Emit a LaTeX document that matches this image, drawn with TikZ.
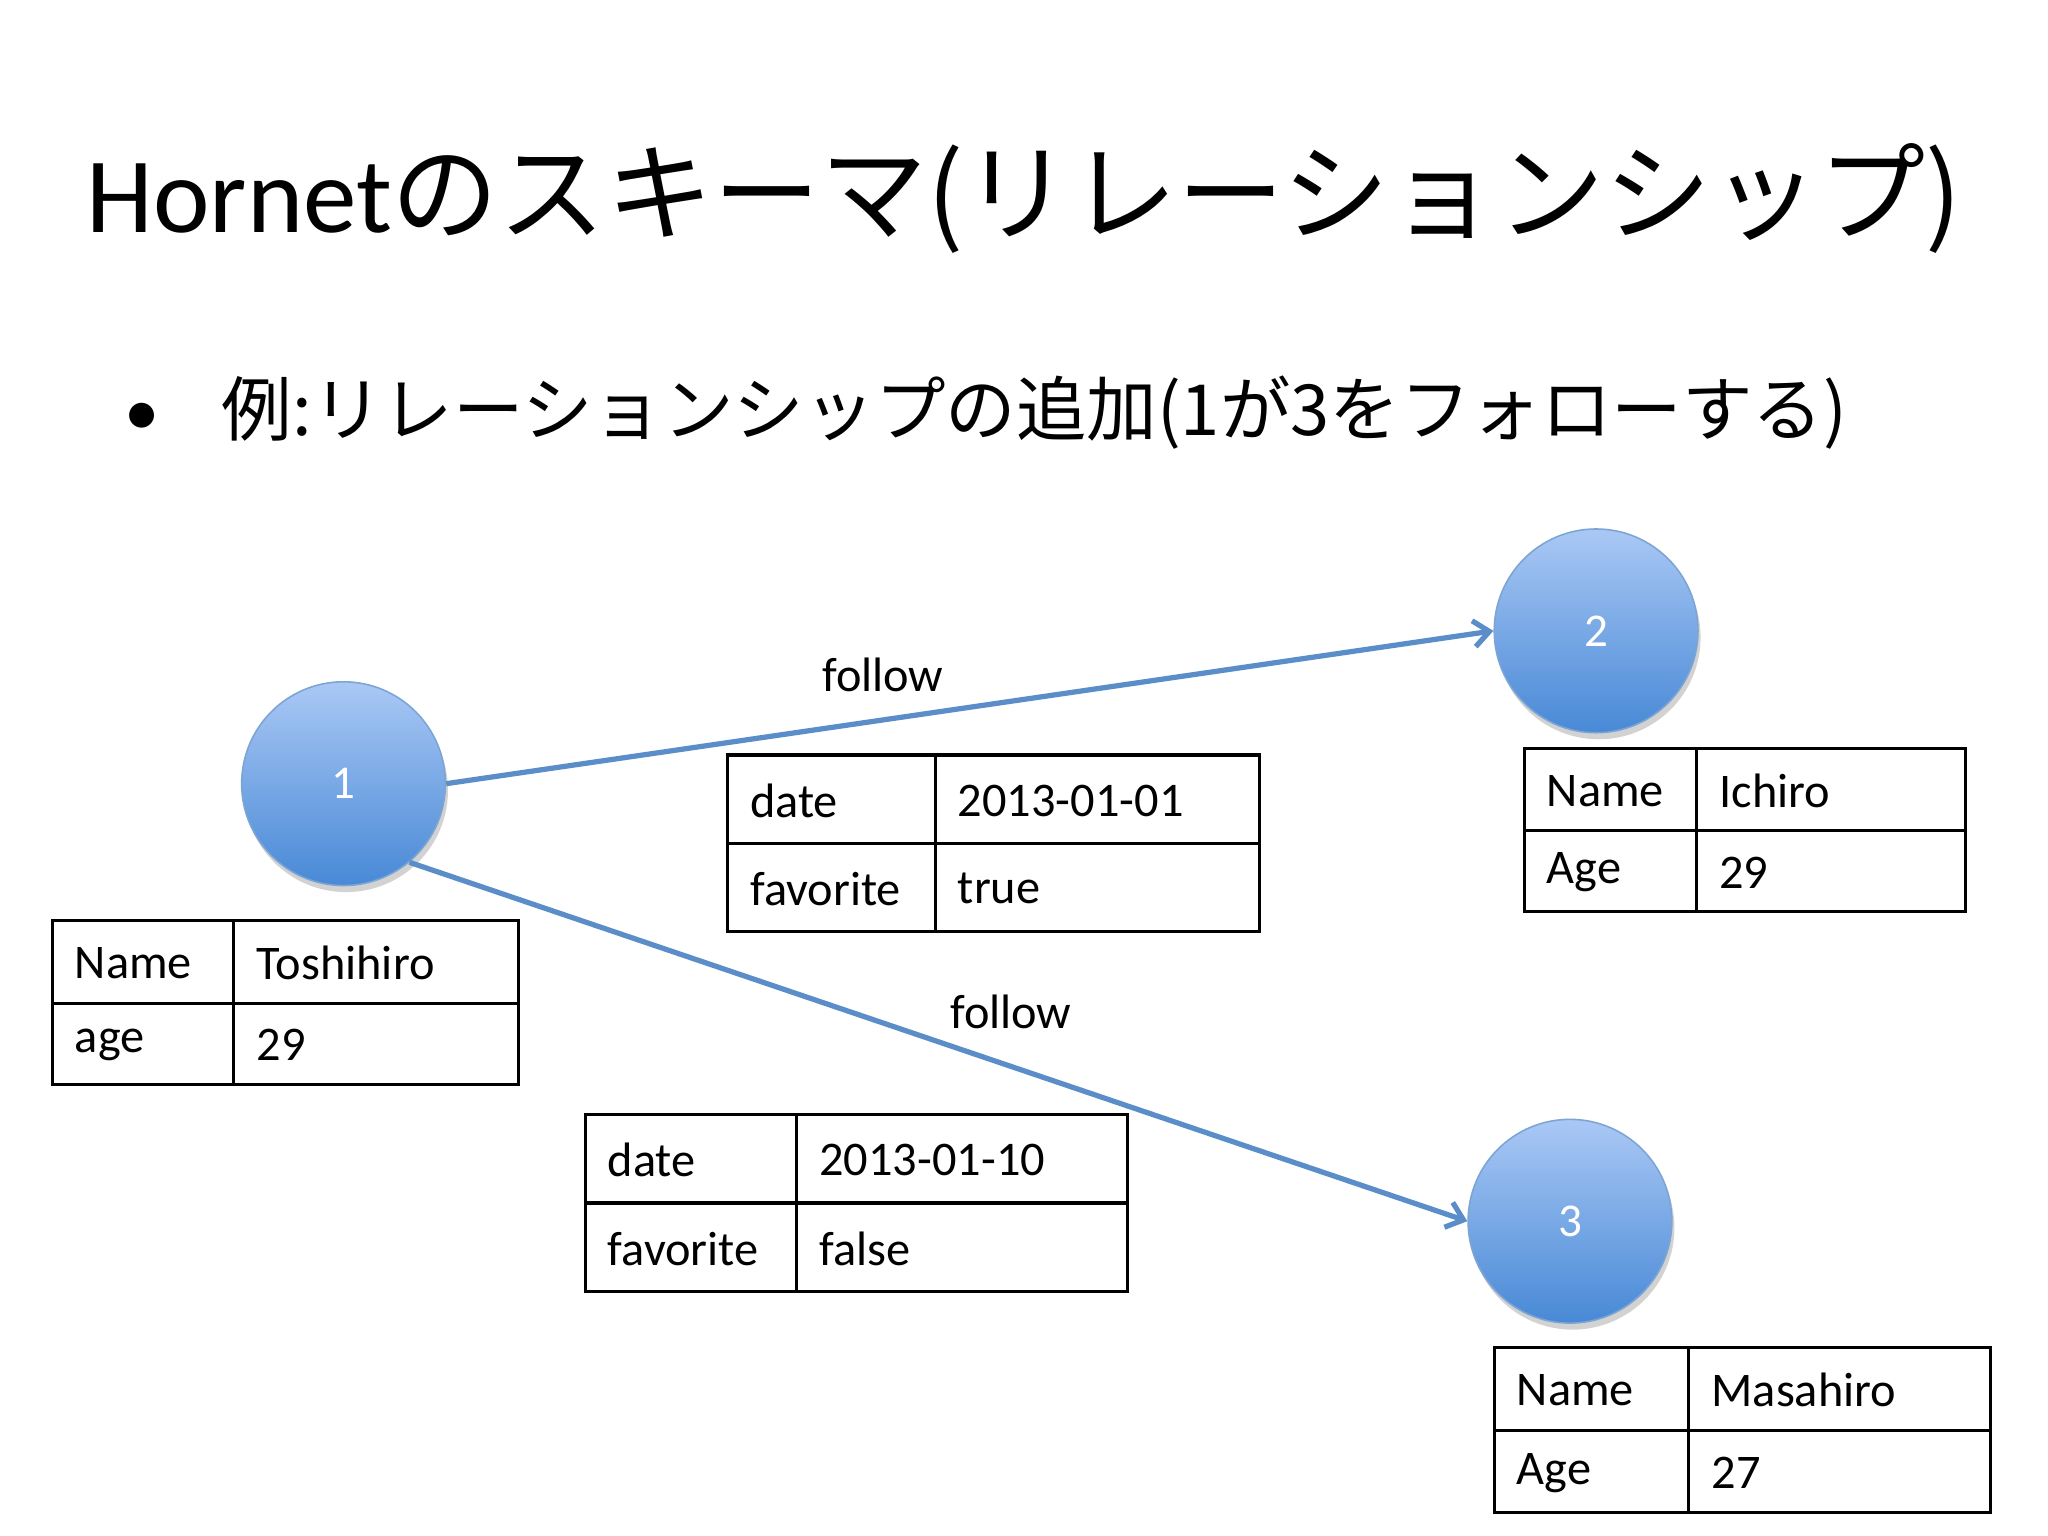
\documentclass[tikz,border=0pt]{standalone}
\usepackage{fontspec}
\setmainfont{Carlito}
\newfontfamily\cjk{Noto Sans CJK JP}
\usetikzlibrary{shadows,arrows.meta}
\definecolor{edge}{HTML}{5B8EC9}
\tikzset{
 vert/.style={circle,minimum size=78pt,inner sep=0pt,draw=edge!80!white,line width=0.6pt,
   top color={rgb,255:red,170;green,200;blue,245},bottom color={rgb,255:red,72;green,137;blue,214},
   text=white,font=\fontsize{18}{20}\selectfont,drop shadow={opacity=0.35,shadow xshift=1pt,shadow yshift=-2.5pt}},
 link/.style={draw=edge,line width=2pt,-{Straight Barb[length=6pt,width=10pt]}},
 cell/.style={anchor=west,font=\fontsize{18.5}{20}\selectfont,inner sep=0pt},
 lbl/.style={font=\fontsize{18.5}{20}\selectfont},
 grid/.style={draw=black,line width=1.2pt}
}
\newcommand{\mytbl}[9]{% x1 y1 xs ys x2 y2 / a b c d via #9 prefix
}
\begin{document}
\begin{tikzpicture}[x=0.5pt,y=-0.5pt]
\useasboundingbox (0,0) rectangle (1568,1176);
\fill[white] (0,0) rectangle (1568,1176);
\node[font=\fontsize{41}{44}\selectfont] (title) at (784,152) {Hornet\cjk{のスキーマ}(\cjk{リレーションシップ})};
\node[anchor=west,font=\fontsize{27}{30}\selectfont] (bul) at (88,316) {\textbullet\hspace{24pt}\cjk{例}:\cjk{リレーションシップの追加}(1\cjk{が}3\cjk{をフォローする})};
\node[vert] (n1) at (263,600) {1};
\node[vert] (n2) at (1222,483) {2};
\node[vert] (n3) at (1202,935) {3};
\draw[link] (n1.east) -- (n2.west);
\draw[link] (n1.-50) -- (n3.180);
\node[lbl] (f1) at (676,517) {follow};
\node[lbl] (f2) at (774,775) {follow};
% tables
\foreach \xa/\ya/\xs/\ys/\xb/\yb/\a/\b/\c/\d [count=\i] in {
 40/705/179/768/397/830/Name/Toshihiro/age/29,
 557/578/716/646/964/713/date/2013-01-01/favorite/true,
 1167/573/1299/636/1505/698/Name/Ichiro/Age/29,
 448/853/610/921/863/989/date/2013-01-10/favorite/false,
 1144/1032/1293/1095/1524/1158/Name/Masahiro/Age/27}{
 \draw[grid] (\xa,\ya) rectangle (\xb,\yb) (\xs,\ya) -- (\xs,\yb) (\xa,\ys) -- (\xb,\ys);
 \node[cell] (t\i a) at (\xa+17,{(\ya+\ys)/2+1}) {\a};
 \node[cell] (t\i b) at (\xs+17,{(\ya+\ys)/2+1}) {\b};
 \node[cell] (t\i c) at (\xa+17,{(\ys+\yb)/2+1}) {\c};
 \node[cell] (t\i d) at (\xs+17,{(\ys+\yb)/2+1}) {\d};
}
\end{tikzpicture}
\end{document}
